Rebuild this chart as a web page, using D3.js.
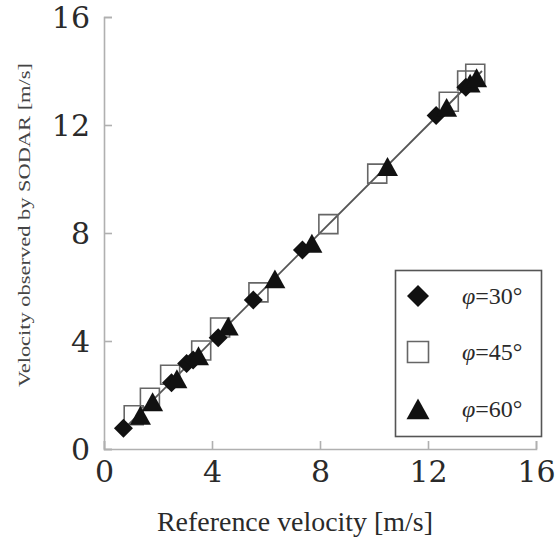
<!DOCTYPE html>
<html><head><meta charset="utf-8">
<script src="https://cdn.jsdelivr.net/npm/d3@7/dist/d3.min.js"></script>
<style>body{margin:0;background:#fff}svg{display:block}</style>
</head><body>
<svg id="c" width="557" height="539"></svg>
<script>
const xTicks = [0, 4, 8, 12, 16];
const yTicks = [0, 4, 8, 12, 16];
const seriesSym = "\u03c6";
const seriesNames = ["=30\u00b0", "=45\u00b0", "=60\u00b0"];
const phi30X = [0.72, 2.5, 3.06, 3.3, 4.23, 5.53, 7.35, 12.3, 13.4];
const phi30Y = [0.77, 2.45, 3.17, 3.3, 4.12, 5.52, 7.37, 12.35, 13.4];
const phi45X = [1.1, 1.7, 2.45, 3.6, 4.3, 5.72, 8.31, 10.12, 12.77, 13.45, 13.75];
const phi45Y = [1.25, 1.9, 2.75, 3.65, 4.5, 5.8, 8.33, 10.2, 12.86, 13.65, 13.9];
const phi60X = [1.35, 1.8, 2.7, 3.5, 4.6, 6.33, 7.7, 10.5, 12.69, 13.56, 13.8];
const phi60Y = [1.25, 1.75, 2.6, 3.45, 4.55, 6.3, 7.62, 10.46, 12.65, 13.55, 13.75];
const fitX = [0.7, 14.0];
const fitY = [0.7, 14.0];

const TICKFONT = '"DejaVu Serif"';
const FONT = '"Liberation Serif"';
const svg = d3.select("#c");
const x = d3.scaleLinear().domain([0, 16]).range([104, 536]);
const y = d3.scaleLinear().domain([0, 16]).range([449, 17]);
const axisCol = "#b0b0b0";
const txtCol = "#2a2a2a";

// axes
const xa = svg.append("g").attr("transform", "translate(0,449)")
  .call(d3.axisBottom(x).tickValues(xTicks).tickSize(-8).tickPadding(12).tickFormat(d3.format("d")));
const ya = svg.append("g").attr("transform", "translate(104,0)")
  .call(d3.axisLeft(y).tickValues(yTicks).tickSize(-8).tickPadding(14).tickFormat(d3.format("d")));
[xa, ya].forEach(g => {
  g.attr("font-family", null).attr("font-size", null);
  g.select(".domain").attr("stroke", axisCol).attr("stroke-width", 1.6);
  g.selectAll(".tick line").attr("stroke", axisCol).attr("stroke-width", 1.6);
  g.selectAll(".tick text").attr("fill", txtCol).style("font-family", TICKFONT)
    .style("font-size", "30px").style("font-weight", "300");
});
xa.selectAll(".tick text").attr("dy", "0.71em");
ya.selectAll(".tick text").attr("dy", "0.36em");

// axis titles
svg.append("text").attr("x", 295).attr("y", 531).attr("text-anchor", "middle")
  .attr("fill", txtCol).style("font-family", FONT).style("font-size", "27px")
  .attr("textLength", 276).attr("lengthAdjust", "spacingAndGlyphs")
  .text("Reference velocity [m/s]");
svg.append("text").attr("transform", "translate(30,225) rotate(-90)").attr("text-anchor", "middle")
  .attr("fill", "#444").style("font-family", FONT).style("font-size", "17px")
  .attr("textLength", 324).attr("lengthAdjust", "spacingAndGlyphs")
  .text("Velocity observed by SODAR [m/s]");

// fit line
svg.append("line").attr("x1", x(fitX[0])).attr("y1", y(fitY[0]))
  .attr("x2", x(fitX[1])).attr("y2", y(fitY[1]))
  .attr("stroke", "#555").attr("stroke-width", 1.8);

function diamond(r){return `M0,${-r}L${r},0L0,${r}L${-r},0Z`;}
function square(r){return `M${-r},${-r}H${r}V${r}H${-r}Z`;}
function triangle(r){return `M0,${-r}L${r},${r*0.8}L${-r},${r*0.8}Z`;}

const pts = (xs, ys) => xs.map((v, i) => [v, ys[i]]);
svg.append("g").selectAll("path").data(pts(phi45X, phi45Y)).join("path")
  .attr("transform", d => `translate(${x(d[0])},${y(d[1])})`)
  .attr("d", square(9.5)).attr("fill", "none").attr("stroke", "#666").attr("stroke-width", 1.6);
svg.append("g").selectAll("path").data(pts(phi30X, phi30Y)).join("path")
  .attr("transform", d => `translate(${x(d[0])},${y(d[1])})`)
  .attr("d", diamond(9.5)).attr("fill", "#111");
svg.append("g").selectAll("path").data(pts(phi60X, phi60Y)).join("path")
  .attr("transform", d => `translate(${x(d[0])},${y(d[1]) + 1})`)
  .attr("d", triangle(10.5)).attr("fill", "#111");

// legend
const lg = svg.append("g");
lg.append("rect").attr("x", 395.5).attr("y", 270.5).attr("width", 146).attr("height", 166)
  .attr("fill", "#fff").attr("stroke", "#555").attr("stroke-width", 1.6);
const rows = [296, 352, 409];
lg.append("path").attr("transform", `translate(418,${rows[0]})`).attr("d", diamond(11)).attr("fill", "#111");
lg.append("path").attr("transform", `translate(418,${rows[1]})`).attr("d", square(10.5))
  .attr("fill", "none").attr("stroke", "#666").attr("stroke-width", 1.6);
lg.append("path").attr("transform", `translate(418,${rows[2] + 1})`).attr("d", triangle(11.5)).attr("fill", "#111");
const lt = lg.selectAll("text.l").data(seriesNames).join("text").attr("class", "l")
  .attr("x", 462).attr("y", (d, i) => rows[i]).attr("dy", "0.35em")
  .attr("fill", txtCol).style("font-family", FONT).style("font-size", "24px");
lt.append("tspan").style("font-style", "italic").text(seriesSym);
lt.append("tspan").text(d => d);
</script>
</body></html>
